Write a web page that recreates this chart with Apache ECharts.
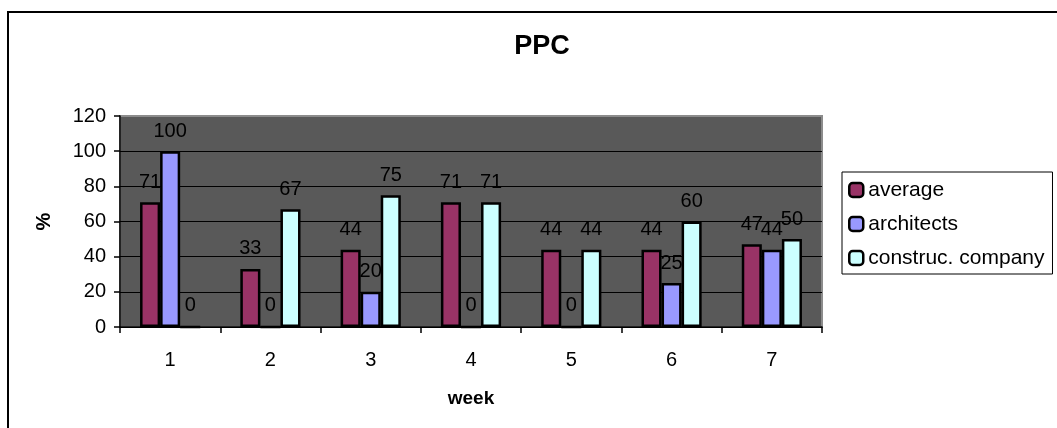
<!DOCTYPE html>
<html>
<head>
<meta charset="utf-8">
<script src="https://cdn.jsdelivr.net/npm/echarts@6/dist/echarts.min.js"></script>
<style>
html,body{margin:0;padding:0;background:#fff;}
#c{width:1057px;height:428px;}
</style>
</head>
<body>
<div id="c"></div>
<script>
var weeks = ['1','2','3','4','5','6','7'];
var average = [71,33,44,71,44,44,47];
var architects = [100,0,20,0,0,25,44];
var construc = [0,67,75,71,44,60,50];
var seriesNames = ['average','architects','construc. company'];
var seriesColors = ['#993366','#9999FF','#CCFFFF'];

var FONT = '"Liberation Sans", Arial, sans-serif';
var chart = echarts.init(document.getElementById('c'), null, {renderer:'canvas'});
function mk(name, data, color){
  return {
    name: name, type: 'bar', data: data,
    barGap: '0%', barCategoryGap: '40%',
    itemStyle: {color: color, borderColor: '#000', borderWidth: 2.5},
    label: {show: true, position: 'top', distance: 10, color: '#000', fontSize: 20, fontFamily: FONT},
    emphasis: {disabled: true}
  };
}
chart.setOption({
  animation: false,
  backgroundColor: '#fff',
  textStyle: {fontFamily: FONT},
  title: {
    text: 'PPC', left: 537, top: 28, textAlign: 'center',
    textStyle: {fontSize: 27, fontWeight: 'bold', color: '#000', fontFamily: FONT}
  },
  graphic: [{
    type: 'rect', shape: {x: 8, y: 12, width: 1100, height: 500},
    style: {fill: 'none', stroke: '#000', lineWidth: 2}, silent: true, z: -1
  }],
  legend: {
    orient: 'vertical', left: 842, top: 172,
    padding: [7, 8, 5, 6], itemGap: 12, itemWidth: 14, itemHeight: 14,
    borderColor: '#000', borderWidth: 1, backgroundColor: '#fff',
    icon: 'roundRect',
    itemStyle: {borderColor: '#000', borderWidth: 2.5},
    textStyle: {fontSize: 21, color: '#000', fontFamily: FONT, lineHeight: 22, padding: [0,0,0,0]},
    data: seriesNames
  },
  grid: {
    left: 120, top: 116, width: 702, height: 211,
    show: true, backgroundColor: '#595959', borderColor: '#8c8c8c', borderWidth: 2
  },
  xAxis: {
    type: 'category', data: weeks,
    name: 'week', nameLocation: 'middle', nameGap: 62,
    nameTextStyle: {fontSize: 19, fontWeight: 'bold', color: '#000', fontFamily: FONT},
    axisLine: {show: true, lineStyle: {color: '#000', width: 1.5}},
    axisTick: {show: true, length: 6, lineStyle: {color: '#000', width: 1.5}},
    axisLabel: {fontSize: 20, color: '#000', margin: 23, fontFamily: FONT},
    splitLine: {show: false}
  },
  yAxis: {
    type: 'value', min: 0, max: 120, interval: 20,
    name: '%', nameLocation: 'middle', nameGap: 66, nameRotate: 90,
    nameTextStyle: {fontSize: 20, fontWeight: 'bold', color: '#000', fontFamily: FONT},
    axisLine: {show: true, lineStyle: {color: '#000', width: 1.5}},
    axisTick: {show: true, length: 6, lineStyle: {color: '#000', width: 1.5}},
    axisLabel: {fontSize: 20, color: '#000', margin: 14, fontFamily: FONT},
    splitLine: {show: true, lineStyle: {color: ['#000','#000','#000','#000','#000','#000','#8c8c8c'], width: 1}}
  },
  series: [
    mk(seriesNames[0], average, seriesColors[0]),
    mk(seriesNames[1], architects, seriesColors[1]),
    mk(seriesNames[2], construc, seriesColors[2])
  ]
});
</script>
</body>
</html>
